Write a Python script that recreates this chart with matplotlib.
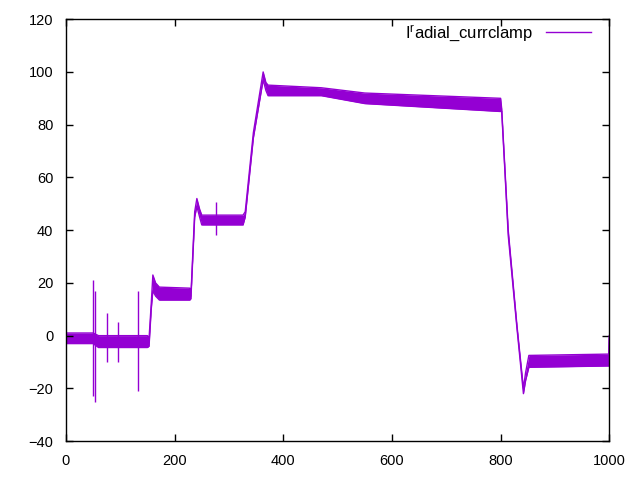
import matplotlib
matplotlib.use('Agg')
import matplotlib.pyplot as plt

plt.rcParams['font.family'] = ['Liberation Sans', 'DejaVu Sans']
plt.rcParams['mathtext.default'] = 'regular'

# envelope of the noisy trace (time, lower edge, upper edge)
t = [0, 50, 60, 150, 153, 157, 160, 165, 172, 228, 230, 237, 241, 246, 250,
     326, 330, 345, 363, 368, 372, 470, 550, 800, 802, 808, 814, 830, 842,
     846, 852, 999, 1000]
lo = [-3, -3, -4.5, -4.5, -4, 10, 17, 15, 13.5, 13.5, 14, 45, 49, 45, 42,
      42, 45, 75, 97, 93, 91, 91, 88, 85, 85, 62, 38, 3, -22,
      -17, -12, -11.5, -1]
hi = [1, 1, 0, 0, -1, 12, 23, 20, 18.4, 18, 15, 47, 52, 48, 45.7,
      45.7, 47, 77, 100, 96, 95, 94, 92, 90, 86, 63, 40, 4, -20,
      -14, -7.5, -7, 0]

# isolated spikes (time, min, max)
spike_t = [49, 53, 75, 96, 133, 277]
spike_lo = [-23, -25, -10, -10, -21, 38]
spike_hi = [21, 17, 8.6, 5, 17, 50.7]

color = '#9400D3'

fig = plt.figure(figsize=(6.4, 4.8), dpi=100)
ax = fig.add_axes([0.103, 0.081, 0.849, 0.879])

ax.fill_between(t, lo, hi, color=color, linewidth=0)
ax.plot(t, lo, color=color, lw=1)
ax.plot(t, hi, color=color, lw=1, label='I$^{r}$adial_currclamp')
ax.vlines(spike_t, spike_lo, spike_hi, color=color, lw=1)

ax.set_xlim(0, 1000)
ax.set_ylim(-40, 120)
ax.set_xticks(range(0, 1001, 200))
ax.set_yticks(range(-40, 121, 20))
ax.tick_params(direction='in', length=5, width=1, top=True, right=True,
               labelsize=10.5, pad=9)
for s in ax.spines.values():
    s.set_linewidth(1)

ax.legend(loc='upper right', bbox_to_anchor=(0.978, 1.007), frameon=False,
          markerfirst=False, handlelength=2.7, handletextpad=0.8,
          fontsize=12, borderaxespad=0)

plt.savefig('out.png')
